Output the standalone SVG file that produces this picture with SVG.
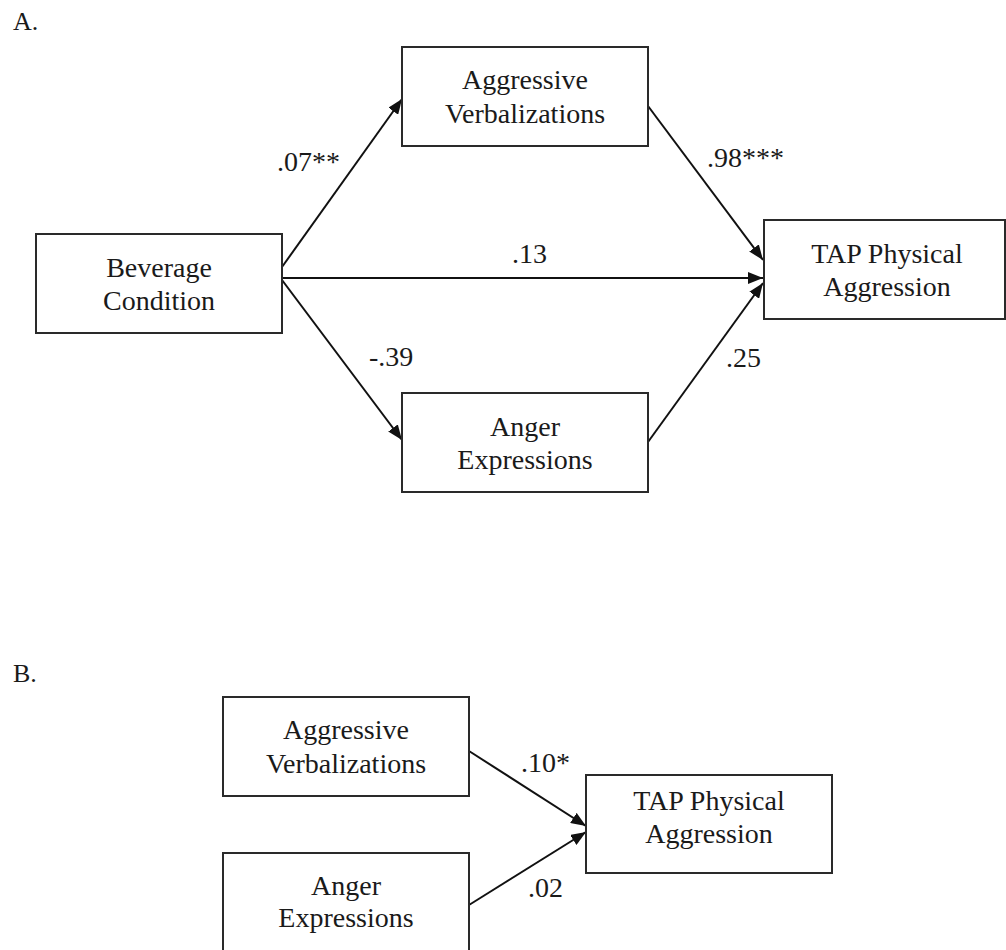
<svg xmlns="http://www.w3.org/2000/svg" width="1006" height="950" viewBox="0 0 1006 950">
<style>
.box{fill:#fff;stroke:#2a2a2a;stroke-width:2}
.t{font-family:"Liberation Serif","Times New Roman",serif;font-size:28px;fill:#1a1a1a;text-anchor:middle}
.lbl{font-family:"Liberation Serif","Times New Roman",serif;font-size:28px;fill:#1a1a1a}
.sec{font-family:"Liberation Serif","Times New Roman",serif;font-size:26px;fill:#1a1a1a}
.c{stroke:#111;stroke-width:2;fill:none;marker-end:url(#ah)}
</style>
<defs>
<marker id="ah" markerUnits="userSpaceOnUse" markerWidth="16" markerHeight="12" refX="15" refY="6" orient="auto">
<path d="M0,0 L15,6 L0,12 z" fill="#111"/>
</marker>
</defs>
<rect width="1006" height="950" fill="#fff"/>
<text class="sec" x="13" y="30">A.</text>
<text class="sec" x="13" y="682">B.</text>

<g id="connectors">
<line class="c" x1="282" y1="267" x2="402" y2="99"/>
<line class="c" x1="282" y1="278" x2="763" y2="278"/>
<line class="c" x1="282" y1="280" x2="402" y2="440"/>
<line class="c" x1="648" y1="106" x2="763" y2="260"/>
<line class="c" x1="648" y1="442" x2="763" y2="283"/>
<line class="c" x1="469" y1="751" x2="586" y2="826"/>
<line class="c" x1="469" y1="905" x2="586" y2="832"/>
<text class="lbl" x="277" y="171">.07**</text>
<text class="lbl" x="707" y="167">.98***</text>
<text class="lbl" x="512" y="263">.13</text>
<text class="lbl" x="369" y="366">-.39</text>
<text class="lbl" x="726" y="367">.25</text>
<text class="lbl" x="521" y="772">.10*</text>
<text class="lbl" x="528" y="897">.02</text>
</g>

<g id="a-beverage">
<rect class="box" x="36" y="234" width="246" height="99"/>
<text class="t" x="159" y="277">Beverage</text>
<text class="t" x="159" y="310">Condition</text>
</g>
<g id="a-verbal">
<rect class="box" x="402" y="47" width="246" height="99"/>
<text class="t" x="525" y="89">Aggressive</text>
<text class="t" x="525" y="123">Verbalizations</text>
</g>
<g id="a-anger">
<rect class="box" x="402" y="393" width="246" height="99"/>
<text class="t" x="525" y="436">Anger</text>
<text class="t" x="525" y="469">Expressions</text>
</g>
<g id="a-tap">
<rect class="box" x="764" y="220" width="241" height="99"/>
<text class="t" x="887" y="263">TAP Physical</text>
<text class="t" x="887" y="296">Aggression</text>
</g>

<g id="b-verbal">
<rect class="box" x="223" y="697" width="246" height="99"/>
<text class="t" x="346" y="739">Aggressive</text>
<text class="t" x="346" y="773">Verbalizations</text>
</g>
<g id="b-anger">
<rect class="box" x="223" y="853" width="246" height="110"/>
<text class="t" x="346" y="895">Anger</text>
<text class="t" x="346" y="927">Expressions</text>
</g>
<g id="b-tap">
<rect class="box" x="586" y="775" width="246" height="98"/>
<text class="t" x="709" y="810">TAP Physical</text>
<text class="t" x="709" y="843">Aggression</text>
</g>
</svg>
